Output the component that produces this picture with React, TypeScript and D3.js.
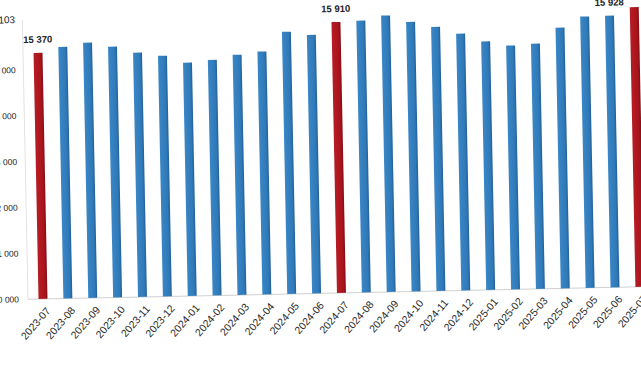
import React from "react";
import * as d3 from "d3";

const months = [
  "2023-07","2023-08","2023-09","2023-10","2023-11","2023-12",
  "2024-01","2024-02","2024-03","2024-04","2024-05","2024-06",
  "2024-07","2024-08","2024-09","2024-10","2024-11","2024-12",
  "2025-01","2025-02","2025-03","2025-04","2025-05","2025-06","2025-07",
];
const values = [
  15370, 15490, 15570, 15470, 15330, 15250,
  15090, 15140, 15240, 15300, 15720, 15640,
  15910, 15930, 16030, 15880, 15760, 15600,
  15420, 15320, 15350, 15690, 15920, 15928, 16103,
];
const highlighted = ["2023-07", "2024-07", "2025-07"];
const labelled = [
  { month: "2023-07", text: "15 370" },
  { month: "2024-07", text: "15 910" },
  { month: "2025-06", text: "15 928" },
];
const yTicks = [10000, 11000, 12000, 13000, 14000, 15000, 16103];

const W = 641;
const H = 380;
const baseY = 299;
const fmt = (v: number) => d3.format(",")(v).replace(/,/g, " ");

export default function App() {
  const y = d3.scaleLinear().domain([10000, 16103]).range([baseY, 19.2]);
  const x = d3
    .scaleBand<string>()
    .domain(months)
    .range([30.56, 652.44])
    .paddingInner(0.64)
    .paddingOuter(0.32);
  const bw = x.bandwidth();
  const cx = (m: string) => (x(m) as number) + bw / 2;
  const font = "'Liberation Sans', Arial, sans-serif";

  return (
    <svg
      width={W}
      height={H}
      style={{ position: "absolute", left: 0, top: 0, background: "#fff" }}
    >
      <defs>
        <linearGradient id="gBlue" x1="0" x2="1" y1="0" y2="0">
          <stop offset="0" stopColor="#3a86c6" />
          <stop offset="0.75" stopColor="#2f79b8" />
          <stop offset="1" stopColor="#245f94" />
        </linearGradient>
        <linearGradient id="gRed" x1="0" x2="1" y1="0" y2="0">
          <stop offset="0" stopColor="#b81c24" />
          <stop offset="0.75" stopColor="#a8141c" />
          <stop offset="1" stopColor="#7e0e14" />
        </linearGradient>
      </defs>
      <g transform={`rotate(-1.16, 40, ${baseY})`}>
        <line x1={28} x2={28} y1={y(16103)} y2={baseY} stroke="#e2e2e2" />
        <line x1={28} x2={660} y1={baseY} y2={baseY} stroke="#d0d0d0" />
        {yTicks.map((t) => (
          <text
            key={t}
            x={t === 16103 ? 20.7 : 19 + (baseY - y(t)) * 0.006}
            y={y(t)}
            dy="0.35em"
            textAnchor="end"
            fontFamily={font}
            fontSize={t === 16103 ? 10 : 8.5}
            fill="#222"
          >
            {fmt(t)}
          </text>
        ))}
        {months.map((m, i) => (
          <rect
            key={m}
            x={x(m)}
            y={y(values[i])}
            width={bw}
            height={baseY - y(values[i])}
            fill={highlighted.includes(m) ? "url(#gRed)" : "url(#gBlue)"}
          />
        ))}
        {labelled.map((l) => {
          const i = months.indexOf(l.month);
          return (
            <text
              key={l.month}
              x={cx(l.month)}
              y={y(values[i]) - 10}
              textAnchor="middle"
              fontFamily={font}
              fontWeight="bold"
              fontSize={9.5}
              fill="#222"
            >
              {l.text}
            </text>
          );
        })}
        {months.map((m) => (
          <text
            key={m}
            transform={`translate(${cx(m) + 5}, ${baseY + 10}) rotate(-48)`}
            textAnchor="end"
            dy="0.35em"
            fontFamily={font}
            fontSize={10.5}
            fill="#2a2a2a"
          >
            {m}
          </text>
        ))}
      </g>
    </svg>
  );
}
